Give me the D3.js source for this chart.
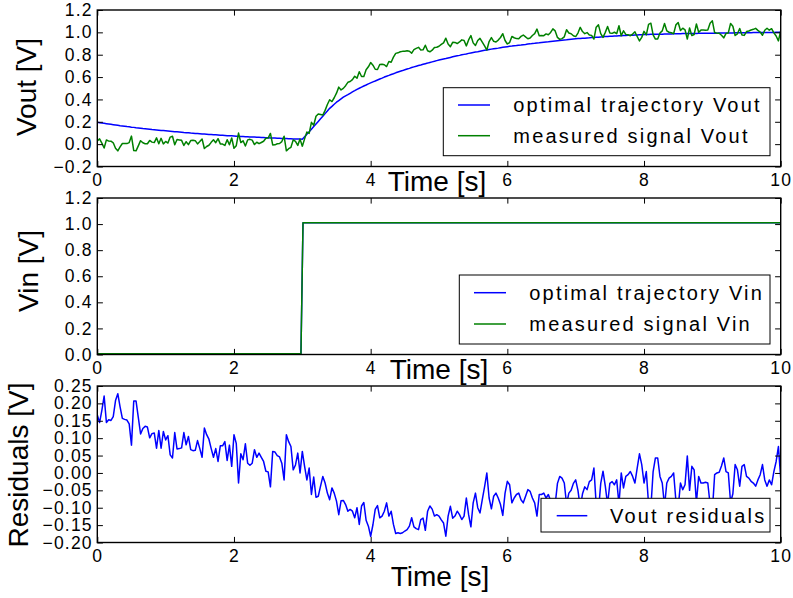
<!DOCTYPE html>
<html>
<head>
<meta charset="utf-8">
<script src="https://cdn.jsdelivr.net/npm/d3@7"></script>
<style>
body { margin: 0; background: #fff; }
svg text { font-family: "Liberation Sans", Arial, sans-serif; fill: #000; }
</style>
</head>
<body>
<div id="chart"></div>
<script>
//------------------------------------------------ DATA ----------------------------------------------------
var dt = 1 / 30; // sample spacing [s]

// optimal trajectory Vout, one value per sample
var voutOptimal = [
  0.195,0.192,0.189,0.186,0.183,0.180,0.177,0.174,0.171,0.168,
  0.165,0.163,0.160,0.157,0.155,0.152,0.150,0.147,0.145,0.143,
  0.140,0.138,0.136,0.134,0.131,0.129,0.127,0.125,0.123,0.121,
  0.119,0.117,0.115,0.113,0.111,0.110,0.108,0.106,0.104,0.103,
  0.101,0.099,0.098,0.096,0.095,0.093,0.091,0.090,0.089,0.087,
  0.086,0.084,0.083,0.082,0.080,0.079,0.078,0.076,0.075,0.074,
  0.073,0.071,0.070,0.069,0.068,0.067,0.066,0.065,0.064,0.063,
  0.062,0.061,0.060,0.059,0.058,0.057,0.056,0.055,0.054,0.053,
  0.052,0.051,0.051,0.050,0.049,0.048,0.047,0.047,0.046,0.045,
  0.044,
  0.066,0.088,0.110,0.133,0.157,0.180,0.203,0.227,0.250,0.273,
  0.297,0.320,0.338,0.357,0.375,0.390,0.405,0.420,0.432,0.443,
  0.455,0.467,0.478,0.490,0.500,0.510,0.520,0.529,0.539,0.548,
  0.557,0.565,0.574,0.583,0.591,0.600,0.608,0.615,0.623,0.630,
  0.638,0.645,0.652,0.658,0.665,0.672,0.678,0.685,0.691,0.697,
  0.703,0.708,0.714,0.720,0.725,0.731,0.736,0.741,0.747,0.752,
  0.757,0.762,0.766,0.771,0.776,0.781,0.786,0.790,0.794,0.799,
  0.803,0.807,0.812,0.816,0.820,0.824,0.827,0.831,0.835,0.839,
  0.842,0.846,0.850,0.853,0.856,0.859,0.863,0.866,0.869,0.872,
  0.875,0.877,0.880,0.882,0.885,0.887,0.890,0.892,0.895,0.897,
  0.900,0.902,0.905,0.907,0.910,0.912,0.914,0.916,0.919,0.921,
  0.923,0.925,0.927,0.929,0.931,0.933,0.936,0.938,0.940,0.942,
  0.944,0.945,0.947,0.948,0.950,0.951,0.953,0.954,0.956,0.957,
  0.959,0.960,0.962,0.963,0.965,0.966,0.967,0.968,0.969,0.970,
  0.971,0.972,0.973,0.974,0.975,0.976,0.977,0.978,0.979,0.980,
  0.981,0.981,0.982,0.982,0.983,0.983,0.984,0.984,0.985,0.985,
  0.986,0.986,0.987,0.987,0.988,0.988,0.989,0.989,0.989,0.989,
  0.990,0.990,0.990,0.991,0.991,0.991,0.992,0.992,0.992,0.993,
  0.993,0.993,0.994,0.994,0.994,0.995,0.995,0.995,0.995,0.996,
  0.996,0.996,0.996,0.997,0.997,0.997,0.997,0.998,0.998,0.998,
  0.998,0.998,0.999,0.999,0.999,0.999,0.999,1.000,1.000,1.000
];

// Vout residuals (optimal - measured), one value per sample
var voutResiduals = [
  0.167,0.145,0.180,0.221,0.145,0.153,0.151,0.162,0.208,0.228,
  0.190,0.157,0.154,0.152,0.141,0.080,0.207,0.207,0.160,0.112,
  0.128,0.134,0.132,0.101,0.113,0.115,0.071,0.122,0.071,0.119,
  0.095,0.107,0.052,0.043,0.116,0.069,0.070,0.072,0.116,0.081,
  0.105,0.067,0.064,0.065,0.093,0.070,0.045,0.129,0.110,0.097,
  0.070,0.045,0.070,0.033,0.078,0.078,0.090,0.036,0.080,0.019,
  0.110,0.085,-0.029,0.055,0.038,0.084,0.028,0.022,0.028,0.067,
  0.045,0.057,0.045,0.033,0.005,0.003,-0.040,0.062,0.060,0.050,
  0.046,0.028,-0.020,0.110,0.090,0.076,0.009,0.023,0.057,0.000,
  0.062,0.019,-0.020,0.014,-0.062,-0.012,-0.070,-0.067,-0.038,-0.010,
  -0.029,-0.058,-0.077,-0.043,-0.058,-0.081,-0.120,-0.080,-0.079,-0.091,
  -0.110,-0.105,-0.110,-0.129,-0.100,-0.148,-0.095,-0.085,-0.136,-0.153,
  -0.182,-0.149,-0.105,-0.094,-0.129,-0.124,-0.110,-0.086,-0.124,-0.110,
  -0.148,-0.174,-0.172,-0.174,-0.172,-0.167,-0.163,-0.153,-0.129,-0.155,
  -0.160,-0.163,-0.134,-0.130,-0.165,-0.110,-0.095,-0.104,-0.124,-0.120,
  -0.124,-0.135,-0.144,-0.182,-0.124,-0.096,-0.130,-0.124,-0.110,-0.120,
  -0.134,-0.124,-0.072,-0.120,-0.155,-0.086,-0.058,-0.100,-0.115,-0.077,
  -0.040,0.000,-0.072,-0.103,-0.067,-0.058,-0.072,-0.091,-0.122,-0.058,
  -0.024,-0.034,-0.086,-0.072,-0.062,-0.058,-0.077,-0.086,-0.067,-0.048,
  -0.053,-0.072,-0.086,-0.124,-0.062,-0.062,-0.058,-0.072,-0.062,-0.080,
  -0.110,-0.090,-0.030,-0.010,-0.015,-0.029,-0.090,-0.058,-0.050,-0.030,
  -0.020,-0.050,-0.100,-0.060,-0.040,-0.048,-0.025,-0.020,0.014,-0.090,
  -0.110,-0.030,0.005,-0.038,-0.090,-0.030,-0.025,-0.034,-0.020,-0.090,
  0.000,-0.043,-0.010,-0.005,0.004,-0.010,-0.029,0.014,0.055,0.024,
  -0.029,0.004,-0.090,-0.100,0.004,0.043,0.043,-0.010,-0.029,-0.095,
  -0.029,-0.015,-0.010,0.000,-0.080,-0.100,-0.029,-0.048,-0.034,0.049,
  -0.050,0.019,0.009,-0.085,-0.010,-0.029,-0.029,-0.027,-0.029,-0.090,
  -0.110,-0.005,0.000,0.002,0.020,0.043,0.004,0.000,-0.085,-0.060,
  0.024,0.009,-0.038,0.019,0.024,-0.010,-0.015,-0.024,-0.029,-0.038,
  -0.020,-0.005,0.024,-0.020,-0.038,-0.020,-0.034,0.004,0.033,0.076,
  -0.015
];

// input step
var vinTime = [0, 2.98, 3.01, 10];
var vinOptimal = [0.005, 0.005, 1.01, 1.01];
var vinMeasured = [0.005, 0.005, 1.01, 1.01];

// ticks
var timeTicks = [0, 2, 4, 6, 8, 10];
var voutTicks = [-0.2, 0, 0.2, 0.4, 0.6, 0.8, 1.0, 1.2];
var vinTicks = [0, 0.2, 0.4, 0.6, 0.8, 1.0, 1.2];
var residTicks = [-0.2, -0.15, -0.1, -0.05, 0, 0.05, 0.1, 0.15, 0.2, 0.25];

var n = Math.min(voutOptimal.length, voutResiduals.length);
var time = d3.range(n).map(function(i) { return i * dt; });

var optimalPts = time.map(function(t, i) { return [t, voutOptimal[i]]; });
var measuredPts = time.map(function(t, i) { return [t, voutOptimal[i] - voutResiduals[i]]; });
var residualPts = time.map(function(t, i) { return [t, voutResiduals[i]]; });
var vinOptPts = vinTime.map(function(t, i) { return [t, vinOptimal[i]]; });
var vinMeasPts = vinTime.map(function(t, i) { return [t, vinMeasured[i]]; });

//------------------------------------------------ SVG ----------------------------------------------------
var BLUE = "#0000ff", GREEN = "#008000";
var left = 97.3, right = 780.7;

var svg = d3.select("#chart").append("svg")
    .attr("width", 793)
    .attr("height", 598);

var x = d3.scaleLinear().domain([0, 10]).range([left, right]);

function makePanel(id, top, bottom, domain) {
  var y = d3.scaleLinear().domain(domain).range([bottom, top]);
  var g = svg.append("g").attr("id", id);
  g.append("clipPath").attr("id", id + "-clip")
    .append("rect")
    .attr("x", left).attr("y", top)
    .attr("width", right - left).attr("height", bottom - top);
  var plot = g.append("g").attr("clip-path", "url(#" + id + "-clip)");
  return { g: g, plot: plot, y: y, top: top, bottom: bottom };
}

function addLine(p, pts, color) {
  var line = d3.line()
    .x(function(d) { return x(d[0]); })
    .y(function(d) { return p.y(d[1]); });
  p.plot.append("path")
    .datum(pts)
    .attr("d", line)
    .attr("fill", "none")
    .attr("stroke", color)
    .attr("stroke-width", 1.5)
    .attr("stroke-linejoin", "round");
}

function styleAxis(sel) {
  sel.attr("font-size", null).attr("font-family", null);
  sel.select(".domain").remove();
  sel.selectAll(".tick line").attr("stroke", "#000").attr("stroke-width", 1);
  sel.selectAll(".tick text")
    .attr("fill", "#000")
    .style("font-size", "17.5px")
    .style("letter-spacing", "1.2px");
}

function addAxes(p, ticks, fmt) {
  var g = p.g;
  g.append("g").attr("transform", "translate(0," + p.bottom + ")")
    .call(d3.axisBottom(x).tickValues(timeTicks).tickSize(-5.6).tickSizeOuter(0)
      .tickPadding(7.5).tickFormat(d3.format("d")))
    .call(styleAxis);
  g.append("g").attr("transform", "translate(0," + p.top + ")")
    .call(d3.axisTop(x).tickValues(timeTicks).tickSize(-5.6).tickSizeOuter(0).tickFormat(""))
    .call(styleAxis);
  g.append("g").attr("transform", "translate(" + left + ",0)")
    .call(d3.axisLeft(p.y).tickValues(ticks).tickSize(-5.6).tickSizeOuter(0)
      .tickPadding(4.5).tickFormat(d3.format(fmt)))
    .call(styleAxis);
  g.append("g").attr("transform", "translate(" + right + ",0)")
    .call(d3.axisRight(p.y).tickValues(ticks).tickSize(-5.6).tickSizeOuter(0).tickFormat(""))
    .call(styleAxis);
  g.append("rect")
    .attr("x", left).attr("y", p.top)
    .attr("width", right - left).attr("height", p.bottom - p.top)
    .attr("fill", "none").attr("stroke", "#000").attr("stroke-width", 1.4);
}

function addLabels(p, ylabel, lx, ly, tx, ty) {
  p.g.append("text")
    .attr("transform", "translate(" + lx + "," + ly + ") rotate(-90)")
    .attr("text-anchor", "middle")
    .style("font-size", "28px")
    .text(ylabel);
  p.g.append("text")
    .attr("x", tx).attr("y", ty)
    .attr("text-anchor", "middle")
    .style("font-size", "28px")
    .text("Time [s]");
}

function addLegend(p, box, lineX1, lineX2, textX, rows) {
  var lg = p.g.append("g").attr("class", "legend");
  lg.append("rect")
    .attr("x", box[0]).attr("y", box[1]).attr("width", box[2]).attr("height", box[3])
    .attr("fill", "#fff").attr("stroke", "#000").attr("stroke-width", 1);
  rows.forEach(function(r) {
    lg.append("line")
      .attr("x1", lineX1).attr("x2", lineX2).attr("y1", r.y).attr("y2", r.y)
      .attr("stroke", r.color).attr("stroke-width", 1.5);
    lg.append("text")
      .attr("x", textX).attr("y", r.y + 7)
      .style("font-size", "20px")
      .style("letter-spacing", "2.2px")
      .text(r.label);
  });
}

// ---- Vout ----
var p1 = makePanel("vout", 10, 166.5, [-0.2, 1.2]);
addLine(p1, optimalPts, BLUE);
addLine(p1, measuredPts, GREEN);
addAxes(p1, voutTicks, ".1f");
addLabels(p1, "Vout [V]", 36, 87, 437, 191);
addLegend(p1, [443.3, 87.7, 326.7, 68], 458, 490, 513.3, [
  { label: "optimal trajectory Vout", color: BLUE, y: 105 },
  { label: "measured signal Vout", color: GREEN, y: 135.7 }
]);

// ---- Vin ----
var p2 = makePanel("vin", 198, 354.5, [0, 1.2]);
addLine(p2, vinOptPts, BLUE);
addLine(p2, vinMeasPts, GREEN);
addAxes(p2, vinTicks, ".1f");
addLabels(p2, "Vin [V]", 37.5, 271, 439, 378.5);
addLegend(p2, [459.3, 275, 310.7, 69], 474, 506, 529.3, [
  { label: "optimal trajectory Vin", color: BLUE, y: 292.7 },
  { label: "measured signal Vin", color: GREEN, y: 324 }
]);

// ---- Residuals ----
var p3 = makePanel("resid", 386, 542.5, [-0.2, 0.25]);
addLine(p3, residualPts, BLUE);
addAxes(p3, residTicks, ".2f");
addLabels(p3, "Residuals [V]", 27.5, 465, 440, 586);
addLegend(p3, [541, 498.3, 229, 33.7], 556.7, 587.3, 610, [
  { label: "Vout residuals", color: BLUE, y: 515.7 }
]);
</script>
</body>
</html>
